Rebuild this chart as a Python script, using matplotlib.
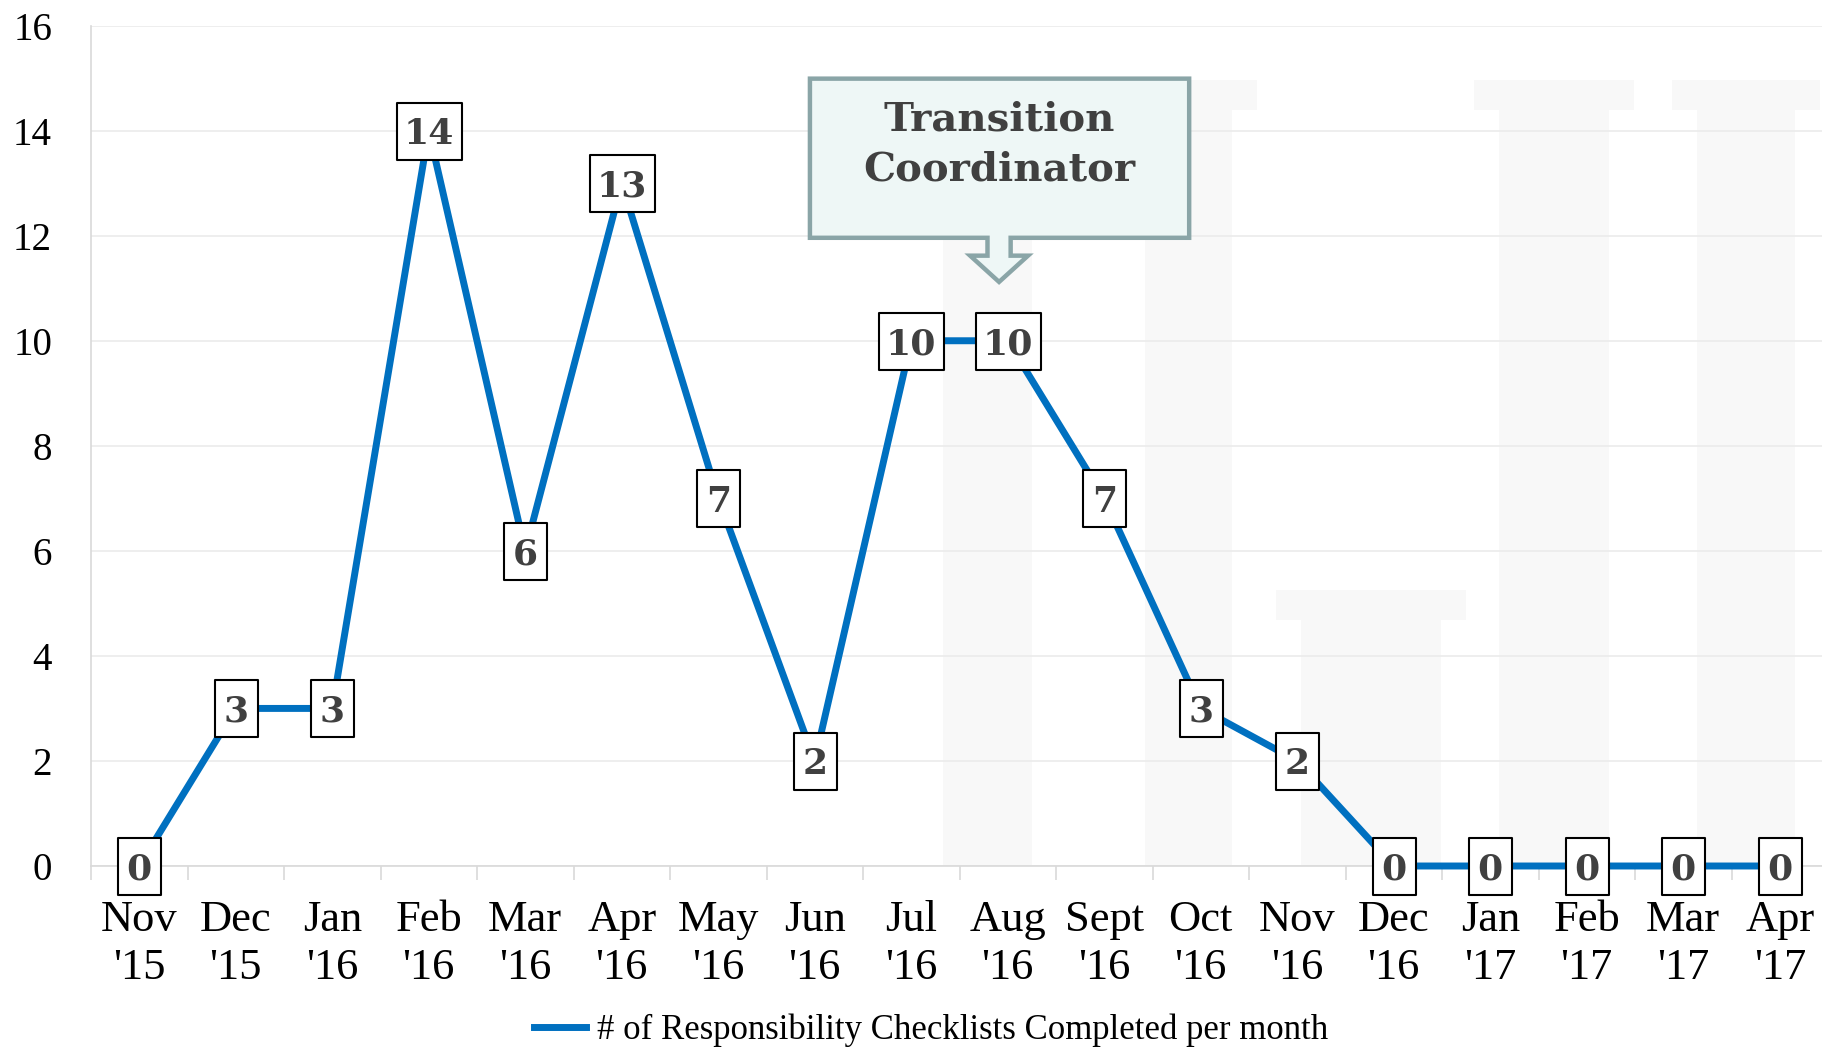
import matplotlib
matplotlib.use("Agg")
import matplotlib.pyplot as plt
from matplotlib.patches import Polygon, Rectangle
from matplotlib.lines import Line2D
from matplotlib.path import Path

# ---- data ----
months = ["Nov\n'15", "Dec\n'15", "Jan\n'16", "Feb\n'16", "Mar\n'16", "Apr\n'16",
          "May\n'16", "Jun\n'16", "Jul\n'16", "Aug\n'16", "Sept\n'16", "Oct\n'16",
          "Nov\n'16", "Dec\n'16", "Jan\n'17", "Feb\n'17", "Mar\n'17", "Apr\n'17"]
checklists = [0, 3, 3, 14, 6, 13, 7, 2, 10, 10, 7, 3, 2, 0, 0, 0, 0, 0]
y_ticks = [0, 2, 4, 6, 8, 10, 12, 14, 16]
series_name = "# of Responsibility Checklists Completed per month"
callout_text = "Transition\nCoordinator"

LINE_BLUE = "#0070C0"
GRID = "#EBEBEB"
LABEL_GRAY = "#404040"
W, H = 1822, 1048
PX = 72 / 100  # points per pixel at 100 dpi

fig = plt.figure(figsize=(W / 100, H / 100), dpi=100)
fig.patch.set_facecolor("white")

# faint column watermark behind the plot
bg = fig.add_axes([0, 0, 1, 1], zorder=-5)
bg.set_xlim(0, W)
bg.set_ylim(H, 0)
bg.axis("off")
wm = "#F8F8F8"
for x0, x1, top in [(943, 1032, 80), (1145, 1232, 80), (1499, 1609, 80), (1697, 1795, 80), (1301, 1441, 590)]:
    bg.add_patch(Rectangle((x0, top + 30), x1 - x0, 866 - top - 30, color=wm, lw=0))
    bg.add_patch(Rectangle((x0 - 25, top), x1 - x0 + 50, 30, color=wm, lw=0))

ax = fig.add_axes([91 / W, 182 / H, 1737 / W, 840.4 / H])
ax.patch.set_alpha(0)

x = list(range(len(months)))
ax.plot(x, checklists, color=LINE_BLUE, lw=5, solid_joinstyle="miter",
        label=series_name, zorder=3, clip_on=False)


def box_marker(w_px, h_px):
    """Rectangular marker path plus the marker size that yields w_px x h_px."""
    hw, hh = w_px / 2, h_px / 2
    verts = [(-hw, -hh), (hw, -hh), (hw, hh), (-hw, hh), (-hw, -hh)]
    codes = [Path.MOVETO, Path.LINETO, Path.LINETO, Path.LINETO, Path.CLOSEPOLY]
    return Path(verts, codes), max(w_px, h_px) * PX


# value labels in white boxes sitting on each point
for xi, v in zip(x, checklists):
    label = str(v)
    path, ms = box_marker(43 if len(label) == 1 else 65, 57)
    ax.plot([xi], [v], marker=path, ms=ms, mfc="white", mec="black", mew=1.5,
            ls="none", zorder=4, clip_on=False)
    ax.text(xi, v, label, ha="center", va="center_baseline", fontsize=26,
            family="DejaVu Serif", fontweight="bold", color=LABEL_GRAY, zorder=5)

ax.set_xlim(-0.5, len(months) - 0.5)
ax.set_ylim(0, 16)
ax.set_yticks(y_ticks)
ax.set_yticklabels([str(t) for t in y_ticks], family="Liberation Serif", fontsize=28)
ax.set_xticks(x)
ax.set_xticklabels(months, family="Liberation Serif", fontsize=32, linespacing=1.25)
ax.set_xticks([i - 0.5 for i in range(len(months) + 1)], minor=True)
ax.tick_params(axis="x", which="major", length=0, pad=24.5)
ax.tick_params(axis="x", which="minor", length=10, width=1.2, color="#D9D9D9")
ax.tick_params(axis="y", length=0, pad=28)
ax.grid(axis="y", color=GRID, lw=1.2, zorder=0)
ax.set_axisbelow(True)
for s in ("top", "right"):
    ax.spines[s].set_visible(False)
for s in ("left", "bottom"):
    ax.spines[s].set_color("#D9D9D9")
    ax.spines[s].set_linewidth(1.2)

# callout box with a downward block arrow
bx0, bx1, by_top, by_bot = 6.95, 10.88, 14.99, 11.96
cx, shaft, head, head_y, tip_y = 8.91, 0.12, 0.30, 11.62, 11.12
outline = [(bx0, by_top), (bx1, by_top), (bx1, by_bot), (cx + shaft, by_bot),
           (cx + shaft, head_y), (cx + head, head_y), (cx, tip_y),
           (cx - head, head_y), (cx - shaft, head_y), (cx - shaft, by_bot),
           (bx0, by_bot)]
ax.add_patch(Polygon(outline, closed=True, facecolor="#EEF7F6", edgecolor="#8AA5A7",
                     lw=3.2, joinstyle="miter", zorder=6, clip_on=False))
ax.text(cx, 13.74, callout_text, ha="center", va="center", fontsize=29,
        family="DejaVu Serif", fontweight="bold", color=LABEL_GRAY,
        linespacing=1.4, zorder=7)

handle = Line2D([], [], color=LINE_BLUE, lw=5)
fig.legend([handle], [series_name], loc="center", bbox_to_anchor=(0.511, 0.017),
           frameon=False, prop=dict(family="Liberation Serif", size=25),
           handlelength=1.5, handletextpad=0.3, borderpad=0)

fig.savefig("out.png", dpi=100, facecolor="white")
